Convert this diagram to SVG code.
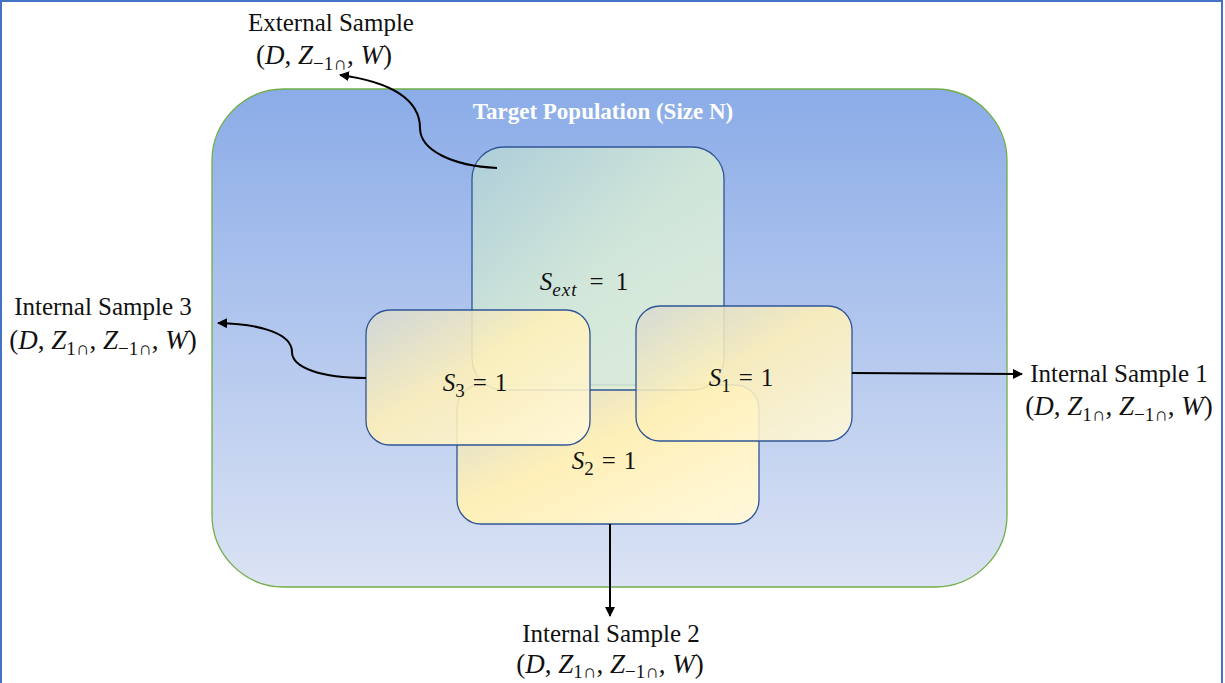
<svg xmlns="http://www.w3.org/2000/svg" width="1225" height="683" viewBox="0 0 1225 683">
<defs>
<linearGradient id="gPop" x1="0" y1="0" x2="0" y2="1">
<stop offset="0" stop-color="#8BACE8"/>
<stop offset="1" stop-color="#DBE3F4"/>
</linearGradient>
<linearGradient id="gExt" x1="0" y1="0" x2="1" y2="1">
<stop offset="0" stop-color="#B2D2D6"/>
<stop offset="0.5" stop-color="#D8EDD6"/>
<stop offset="1" stop-color="#E4F2DA"/>
</linearGradient>
<linearGradient id="gYel" x1="0" y1="0" x2="1" y2="1">
<stop offset="0" stop-color="#D4D9D4"/>
<stop offset="0.45" stop-color="#FFF0B8"/>
<stop offset="1" stop-color="#FFF8DC"/>
</linearGradient>
<marker id="arr" viewBox="0 0 10 10" refX="9" refY="5" markerWidth="5" markerHeight="5" orient="auto-start-reverse" markerUnits="strokeWidth">
<path d="M0,0 L10,5 L0,10 z" fill="#000"/>
</marker>
</defs>
<style>
.lbl{font-family:"Liberation Serif","Times New Roman",serif;font-size:25px;fill:#111}
.math{font-family:"Liberation Serif","Times New Roman",serif;font-size:27px;fill:#111}
.smath{font-family:"Liberation Serif","Times New Roman",serif;font-size:25px;fill:#111}
.it{font-style:italic}
.sub{font-size:19px}
.box{stroke:#2F5597;stroke-width:1.3}
.conn{fill:none;stroke:#000;stroke-width:2;marker-end:url(#arr)}
</style>
<rect x="1" y="1" width="1221" height="700" fill="#fff" stroke="#4472C4" stroke-width="2"/>

<g id="population">
<rect x="212" y="89" width="795" height="498" rx="72" ry="72" fill="url(#gPop)" stroke="#70AD47" stroke-width="1.3"/>
<text x="603" y="119" text-anchor="middle" style="font-family:'Liberation Serif','Times New Roman',serif;font-size:23px;font-weight:bold;fill:#fff">Target Population (Size N)</text>
</g>

<g id="s2">
<rect class="box" x="457" y="385" width="302" height="139" rx="24" ry="24" fill="url(#gYel)"/>
<text class="smath" x="604" y="469" text-anchor="middle"><tspan class="it">S</tspan><tspan class="sub" dy="6">2</tspan><tspan dy="-6" dx="8">=</tspan><tspan dx="8">1</tspan></text>
</g>

<g id="ext">
<rect class="box" x="472" y="147" width="252" height="243" rx="32" ry="32" fill="url(#gExt)" fill-opacity="0.85"/>
<text class="smath" x="584" y="290" text-anchor="middle"><tspan class="it">S</tspan><tspan class="it sub" dy="6" font-size="20" letter-spacing="1">ext</tspan><tspan dy="-6" dx="12">=</tspan><tspan dx="12">1</tspan></text>
</g>

<g id="s3">
<rect class="box" x="366" y="310" width="224" height="135" rx="24" ry="24" fill="url(#gYel)" fill-opacity="0.88"/>
<text class="smath" x="475" y="391" text-anchor="middle"><tspan class="it">S</tspan><tspan class="sub" dy="6">3</tspan><tspan dy="-6" dx="8">=</tspan><tspan dx="8">1</tspan></text>
</g>

<g id="s1">
<rect class="box" x="636" y="306" width="216" height="135" rx="24" ry="24" fill="url(#gYel)" fill-opacity="0.88"/>
<text class="smath" x="741" y="386" text-anchor="middle"><tspan class="it">S</tspan><tspan class="sub" dy="6">1</tspan><tspan dy="-6" dx="8">=</tspan><tspan dx="8">1</tspan></text>
</g>

<g id="connectors">
<path class="conn" d="M497,168 C452,166 420,150 420,128 C420,100 392,82 340,75"/>
<path class="conn" d="M366,378 C322,378 292,368 292,352 C292,334 262,324 218,323"/>
<path class="conn" d="M852,373 L1022,374"/>
<path class="conn" d="M610,524 L610,616"/>
</g>

<g id="label-ext">
<text class="lbl" x="331" y="31" text-anchor="middle">External Sample</text>
<text class="math" x="324" y="64" text-anchor="middle">(<tspan class="it">D</tspan>, <tspan class="it">Z</tspan><tspan class="sub" dy="6">−1∩</tspan><tspan dy="-6">, </tspan><tspan class="it">W</tspan>)</text>
</g>

<g id="label-s3">
<text class="lbl" x="103" y="315" text-anchor="middle">Internal Sample 3</text>
<text class="math" x="103" y="349" text-anchor="middle">(<tspan class="it">D</tspan>, <tspan class="it">Z</tspan><tspan class="sub" dy="6">1∩</tspan><tspan dy="-6">, </tspan><tspan class="it">Z</tspan><tspan class="sub" dy="6">−1∩</tspan><tspan dy="-6">, </tspan><tspan class="it">W</tspan>)</text>
</g>

<g id="label-s1">
<text class="lbl" x="1119" y="382" text-anchor="middle">Internal Sample 1</text>
<text class="math" x="1119" y="415" text-anchor="middle">(<tspan class="it">D</tspan>, <tspan class="it">Z</tspan><tspan class="sub" dy="6">1∩</tspan><tspan dy="-6">, </tspan><tspan class="it">Z</tspan><tspan class="sub" dy="6">−1∩</tspan><tspan dy="-6">, </tspan><tspan class="it">W</tspan>)</text>
</g>

<g id="label-s2">
<text class="lbl" x="611" y="642" text-anchor="middle">Internal Sample 2</text>
<text class="math" x="610" y="673" text-anchor="middle">(<tspan class="it">D</tspan>, <tspan class="it">Z</tspan><tspan class="sub" dy="5">1∩</tspan><tspan dy="-5">, </tspan><tspan class="it">Z</tspan><tspan class="sub" dy="5">−1∩</tspan><tspan dy="-5">, </tspan><tspan class="it">W</tspan>)</text>
</g>
</svg>
